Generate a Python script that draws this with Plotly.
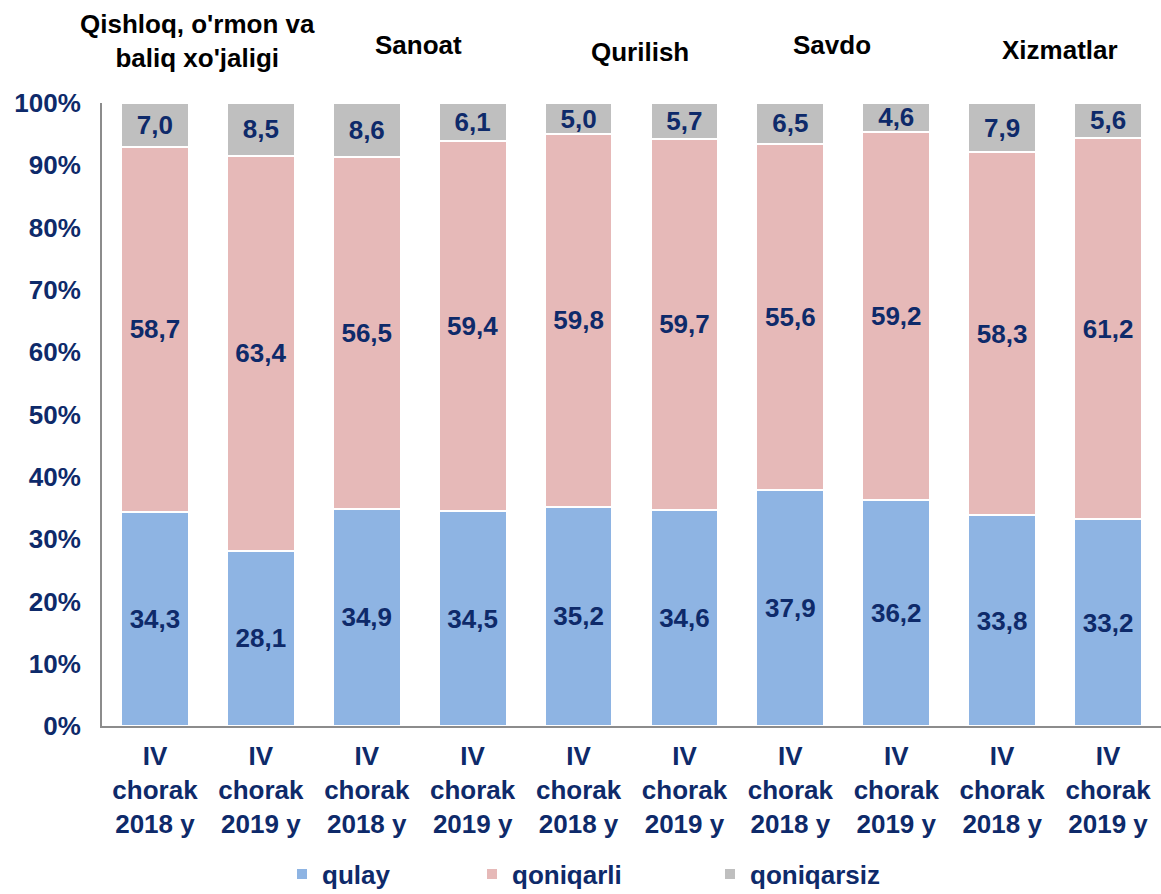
import plotly.graph_objects as go

categories = ["IV<br>chorak<br>2018 y", "IV<br>chorak<br>2019 y"] * 5
groups = ["Qishloq, o'rmon va<br>baliq xo'jaligi", "Sanoat", "Qurilish", "Savdo", "Xizmatlar"]
qulay = [34.3, 28.1, 34.9, 34.5, 35.2, 34.6, 37.9, 36.2, 33.8, 33.2]
qoniqarli = [58.7, 63.4, 56.5, 59.4, 59.8, 59.7, 55.6, 59.2, 58.3, 61.2]
qoniqarsiz = [7.0, 8.5, 8.6, 6.1, 5.0, 5.7, 6.5, 4.6, 7.9, 5.6]
yticks = [0, 10, 20, 30, 40, 50, 60, 70, 80, 90, 100]

FONT = "Liberation Sans, Arial, sans-serif"
NAVY = "#0E2A6A"
FS = 26
xs = list(range(len(categories)))

def fmt(v):
    return f"{v:.1f}".replace(".", ",")

fig = go.Figure()
series = [("qulay", qulay, "#8EB4E3", "legend", 282),
          ("qoniqarli", qoniqarli, "#E6B9B8", "legend2", 472),
          ("qoniqarsiz", qoniqarsiz, "#BFBFBF", "legend3", 710)]
for name, vals, col, lg, _ in series:
    fig.add_trace(go.Bar(
        x=xs, y=vals, name=name, legend=lg,
        marker=dict(color=col, line=dict(color="white", width=2)),
        text=[fmt(v) for v in vals], textposition="inside",
        insidetextanchor="middle", constraintext="none",
        textfont=dict(family=FONT, size=FS, color=NAVY, weight="bold"),
        hoverinfo="skip",
    ))

title_x = [0.406, 2.484, 4.58, 6.39, 8.55]
title_y = [1.0995, 1.093, 1.082, 1.093, 1.085]
for i, g in enumerate(groups):
    fig.add_annotation(x=title_x[i], xref="x", y=title_y[i], yref="paper",
                       text=f"<b>{g}</b>", showarrow=False,
                       font=dict(family=FONT, size=FS, color="black"),
                       yanchor="middle", align="center")

legend_common = dict(orientation="h", xref="container", yref="container",
                     y=20 / 894, yanchor="middle", xanchor="left",
                     font=dict(family=FONT, size=FS, color=NAVY, weight="bold"),
                     itemwidth=30, bgcolor="rgba(0,0,0,0)")
layout_legends = {}
for name, vals, col, lg, px in series:
    layout_legends[lg] = dict(legend_common, x=px / 1161)

fig.update_layout(
    barmode="stack", bargap=0.36,
    width=1161, height=894,
    margin=dict(l=102, r=0, t=103, b=168),
    plot_bgcolor="white", paper_bgcolor="white",
    font=dict(family=FONT, size=FS, color=NAVY),
    showlegend=True,
    **layout_legends,
)
fig.update_xaxes(tickvals=xs, ticktext=[f"<b>{c}</b>" for c in categories],
                 range=[-0.5, 9.5], showline=True, linecolor="#8C8C8C", linewidth=2,
                 ticks="", ticklabelstandoff=6,
                 tickfont=dict(family=FONT, size=FS, color=NAVY))
fig.update_yaxes(range=[0, 100], tickvals=yticks,
                 ticktext=[f"<b>{v}%</b>" for v in yticks],
                 showgrid=False, zeroline=False, showline=True, linecolor="#8C8C8C",
                 linewidth=2, ticks="", ticklabelstandoff=14,
                 tickfont=dict(family=FONT, size=FS, color=NAVY))

fig.write_html("out.html", config={"displayModeBar": False},
               post_script="document.body.style.margin='0';")
